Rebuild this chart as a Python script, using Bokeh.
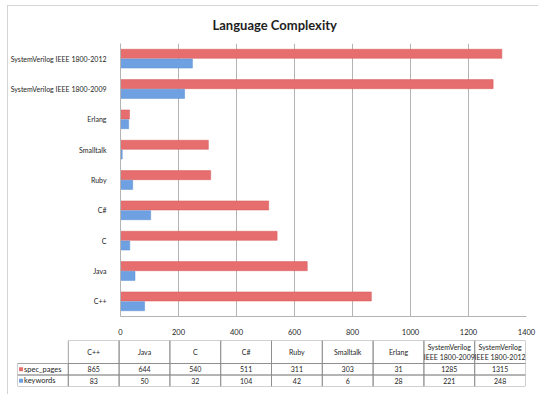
from bokeh.plotting import figure
from bokeh.layouts import column
from bokeh.models import ColumnDataSource, FactorRange, Range1d, FixedTicker
from bokeh.transform import dodge
from bokeh.core.properties import value
from bokeh.embed import file_html
from bokeh.resources import INLINE

# ---- data ----
languages = ["C++", "Java", "C", "C#", "Ruby", "Smalltalk", "Erlang",
             "SystemVerilog IEEE 1800-2009", "SystemVerilog IEEE 1800-2012"]
spec_pages = [865, 644, 540, 511, 311, 303, 31, 1285, 1315]
keywords = [83, 50, 32, 104, 42, 6, 28, 221, 248]
series_names = ["spec_pages", "keywords"]
x_ticks = [0, 200, 400, 600, 800, 1000, 1200, 1400]

FONT = "Lato"
RED = "#E76E6E"
BLUE = "#6FA1E2"
TXT = "#1e1e1e"
GRID = "#b4b4b4"

# ---- chart ----
src = ColumnDataSource(dict(lang=languages, spec=spec_pages, kw=keywords))

p = figure(width=538, height=337, output_backend="svg", toolbar_location=None,
           y_range=FactorRange(factors=languages), x_range=Range1d(0, 1400),
           title="Language Complexity")
p.frame_align = False
p.min_border_left = 120
p.min_border_right = 12
p.min_border_top = 43
p.min_border_bottom = 10
p.outline_line_color = None
p.background_fill_color = "white"
p.border_fill_color = None

p.title.text_font = FONT
p.title.text_font_size = "13px"
p.title.text_font_style = "bold"
p.title.text_color = TXT
p.title.align = "left"
p.title.offset = 92
p.title.standoff = 21

p.hbar(y=dodge("lang", 0.16, range=p.y_range), right="spec", height=0.3,
       left=0, source=src, fill_color=RED, line_color="#d45a5a", line_width=0.5)
p.hbar(y=dodge("lang", -0.16, range=p.y_range), right="kw", height=0.3,
       left=0, source=src, fill_color=BLUE, line_color="#5a8ed0", line_width=0.5)

p.xaxis.ticker = FixedTicker(ticks=x_ticks)
p.xaxis.major_tick_line_color = None
p.xaxis.minor_tick_line_color = None
p.xaxis.axis_line_color = GRID
p.xaxis.major_label_standoff = 6
p.xaxis.major_label_text_font = FONT
p.xaxis.major_label_text_font_size = "7.5px"
p.xaxis.major_label_text_color = TXT

p.yaxis.major_tick_line_color = None
p.yaxis.minor_tick_line_color = None
p.yaxis.axis_line_color = GRID
p.yaxis.major_label_standoff = 8
p.yaxis.major_label_text_font = FONT
p.yaxis.major_label_text_font_size = "7px"
p.yaxis.major_label_text_color = TXT

p.xgrid.grid_line_color = GRID
p.xgrid.ticker = FixedTicker(ticks=x_ticks)
p.ygrid.grid_line_color = None

# ---- data table ----
n = len(languages)
header_labels = [s.replace(" IEEE", "\nIEEE") for s in languages]

t = figure(width=538, height=57, output_backend="svg", toolbar_location=None,
           x_range=Range1d(-1, n), y_range=Range1d(0, 4))
t.frame_align = False
t.min_border_left = 17
t.min_border_right = 13
t.min_border_top = 3
t.min_border_bottom = 8
t.axis.visible = False
t.grid.visible = False
t.outline_line_color = None
t.border_fill_color = None
t.background_fill_color = "white"

CELL = "#8a8a8a"
# header cells
hx = list(range(n))
t.quad(left=hx, right=[i + 1 for i in hx], bottom=[2] * n, top=[4] * n,
       fill_color=None, line_color=CELL, line_width=0.8)
# data cells (incl. label column)
cx = list(range(-1, n))
for row_bottom in (1, 0):
    t.quad(left=cx, right=[i + 1 for i in cx], bottom=[row_bottom] * (n + 1),
           top=[row_bottom + 1] * (n + 1), fill_color=None, line_color=CELL, line_width=0.8)

t.text(x=[i + 0.5 for i in hx], y=[3] * n, text=header_labels, text_align="center",
       text_baseline="middle", text_font=value(FONT), text_font_size="7px",
       text_color=TXT, text_line_height=1.15)
t.text(x=[i + 0.5 for i in hx], y=[1.5] * n, text=[str(v) for v in spec_pages],
       text_align="center", text_baseline="middle", text_font=value(FONT),
       text_font_size="7px", text_color=TXT)
t.text(x=[i + 0.5 for i in hx], y=[0.5] * n, text=[str(v) for v in keywords],
       text_align="center", text_baseline="middle", text_font=value(FONT),
       text_font_size="7px", text_color=TXT)

# legend keys and series names
t.scatter(x=[-0.93, -0.93], y=[1.5, 0.5], marker="square", size=4,
          fill_color=[RED, BLUE], line_color=None)
t.text(x=[-0.87, -0.87], y=[1.5, 0.5], text=series_names, text_align="left",
       text_baseline="middle", text_font=value(FONT), text_font_size="7.5px",
       text_color=TXT)

frame_bg = ("linear-gradient(#d4d4d4,#d4d4d4) 7px 5px / 1px 100% no-repeat, "
            "linear-gradient(#d4d4d4,#d4d4d4) 7px 5px / 100% 1px no-repeat, white")
layout = column(p, t, spacing=0, styles={"background": frame_bg})
open("out.html", "w").write(file_html(layout, INLINE))
